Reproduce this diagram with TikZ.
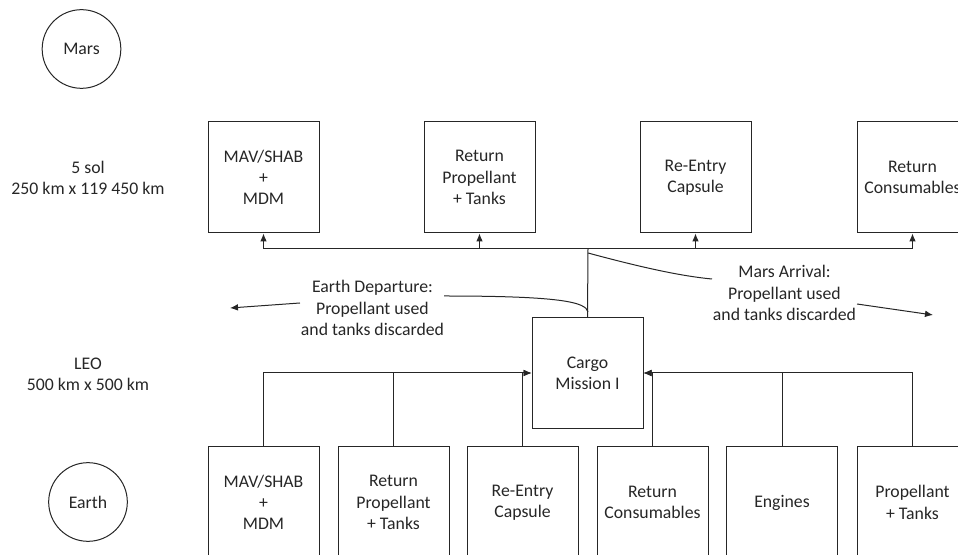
\documentclass[tikz,border=0pt]{standalone}
\usepackage{fontspec}
\setmainfont{Carlito}
\usepackage{tikz}
\usetikzlibrary{arrows.meta,positioning}

\begin{document}
\begin{tikzpicture}[x=0.75pt,y=-0.75pt,
    font=\fontsize{13.3pt}{16pt}\selectfont,
    >={Latex[length=6pt,width=5pt]},
    line width=0.75pt,color=black!85,
    box/.style={draw,minimum width=83.25pt,minimum height=83.25pt,align=center,inner sep=0pt},
    planet/.style={draw,circle,minimum size=59pt,inner sep=0pt},
    note/.style={align=center,inner sep=0pt}]
  \useasboundingbox (0,0) rectangle (958,555);
  \path (81.5,49) node[planet] (mars) {Mars}
        (88,502) node[planet] (earth) {Earth}
        (88,178) node[note] (marsorbit) {5 sol\\250 km x 119 450 km}
        (88,374) node[note] (leo) {LEO\\500 km x 500 km};
  % at Mars
  \path (263.5,177.5) node[box] (mavtop) {MAV/SHAB\\+\\MDM}
        (479.5,177.5) node[box] (proptop) {Return\\Propellant\\+ Tanks}
        (695.5,177.5) node[box] (capsuletop) {Re-Entry\\Capsule}
        (912.5,177.5) node[box] (consumtop) {Return\\Consumables};
  % in LEO
  \path (587.5,373) node[box] (cargo) {Cargo\\Mission I};
  \path (263.5,502.5) node[box] (mav) {MAV/SHAB\\+\\MDM}
        (393.5,502.5) node[box] (prop) {Return\\Propellant\\+ Tanks}
        (522.5,502.5) node[box] (capsule) {Re-Entry\\Capsule}
        (652.5,502.5) node[box] (consum) {Return\\Consumables}
        (782,502.5) node[box] (engines) {Engines}
        (912.5,502.5) node[box] (tanks) {Propellant\\+ Tanks};
  \path (372.5,308) node[note] (departure) {Earth Departure:\\Propellant used\\and tanks discarded}
        (784.5,293) node[note] (arrival) {Mars Arrival:\\Propellant used\\and tanks discarded};
  \coordinate (split) at (588,249);
  \coordinate (departend) at (444,296);
  \coordinate (departjoin) at (588,312);
  \coordinate (departtail) at (300,303);
  \coordinate (departhead) at (230,308);
  \coordinate (arrivalstart) at (588,253);
  \coordinate (arrivalend) at (712,279);
  \coordinate (arrivaltail) at (857,304);
  \coordinate (arrivalhead) at (933,315);
  % assembly in LEO
  \draw [->] (mav.north) |- (cargo.west);
  \draw (prop.north) -- (prop.north |- cargo.west);
  \draw [->] (capsule.north) |- (cargo.west);
  \draw [->] (tanks.north) |- (cargo.east);
  \draw (engines.north) -- (engines.north |- cargo.east);
  \draw [->] (consum.north) |- (cargo.east);
  % delivery to Mars
  \draw (cargo.north) -- (split);
  \draw [->] (split) -| (mavtop);
  \draw [->] (split) -| (proptop);
  \draw [->] (split) -| (capsuletop);
  \draw [->] (split) -| (consumtop);
  % burns
  \draw (departend) .. controls (560,296) and (586,302) .. (departjoin);
  \draw [->] (departtail) -- (departhead);
  \draw (arrivalstart) .. controls (640,267) and (680,276) .. (arrivalend);
  \draw [->] (arrivaltail) -- (arrivalhead);
\end{tikzpicture}
\end{document}
